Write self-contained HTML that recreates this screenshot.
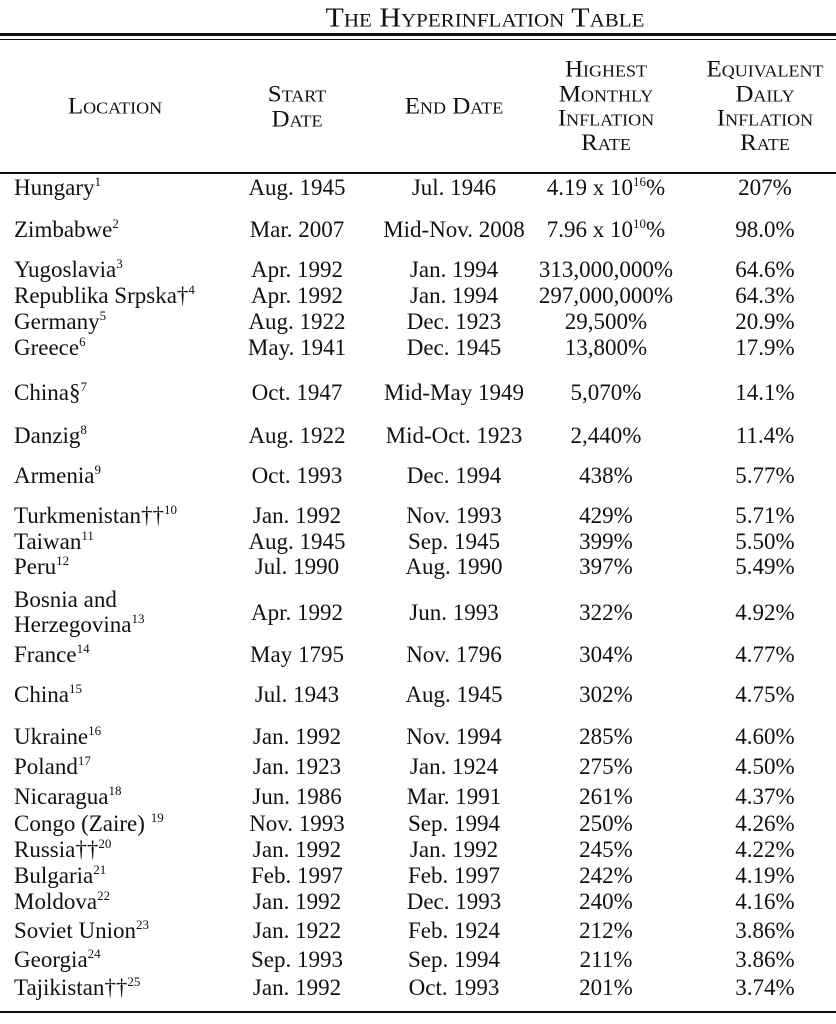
<!DOCTYPE html>
<html><head><meta charset="utf-8"><style>
body{margin:0;width:836px;height:1024px;background:#fff;position:relative;overflow:hidden;font-family:"Liberation Serif",serif;color:#111;}
.t{position:absolute;font-size:23px;line-height:24px;white-space:nowrap;transform:translate(-50%,-50%);}
.l{position:absolute;left:14px;font-size:23px;line-height:24px;white-space:nowrap;transform:translateY(-50%);}
.h{position:absolute;font-size:25px;line-height:26.5px;text-align:center;font-variant:small-caps;transform:translateX(-50%) scaleY(0.92);white-space:nowrap;}
sup{font-size:13px;vertical-align:9px;line-height:0;}
.line{position:absolute;left:0;width:836px;background:#111;}
</style></head><body>
<div class="h" style="left:485px;top:2px;font-size:30px;line-height:32px;">The Hyperinflation Table</div>
<div class="line" style="top:33px;height:3px"></div>
<div class="line" style="top:39px;height:1px"></div>
<div class="h" style="left:115px;top:94px">Location</div>
<div class="h" style="left:297px;top:81px">Start<br>Date</div>
<div class="h" style="left:454px;top:94px">End Date</div>
<div class="h" style="left:606px;top:54px">Highest<br>Monthly<br>Inflation<br>Rate</div>
<div class="h" style="left:765px;top:54px">Equivalent<br>Daily<br>Inflation<br>Rate</div>
<div class="line" style="top:172px;height:2px"></div>

<div class="l" style="top:188px">Hungary<sup>1</sup></div><div class="t" style="left:297px;top:188px">Aug. 1945</div><div class="t" style="left:454px;top:188px">Jul. 1946</div><div class="t" style="left:606px;top:188px">4.19 x 10<sup>16</sup>%</div><div class="t" style="left:765px;top:188px">207%</div>
<div class="l" style="top:230px">Zimbabwe<sup>2</sup></div><div class="t" style="left:297px;top:230px">Mar. 2007</div><div class="t" style="left:454px;top:230px">Mid-Nov. 2008</div><div class="t" style="left:606px;top:230px">7.96 x 10<sup>10</sup>%</div><div class="t" style="left:765px;top:230px">98.0%</div>
<div class="l" style="top:270px">Yugoslavia<sup>3</sup></div><div class="t" style="left:297px;top:270px">Apr. 1992</div><div class="t" style="left:454px;top:270px">Jan. 1994</div><div class="t" style="left:606px;top:270px">313,000,000%</div><div class="t" style="left:765px;top:270px">64.6%</div>
<div class="l" style="top:296px">Republika Srpska†<sup>4</sup></div><div class="t" style="left:297px;top:296px">Apr. 1992</div><div class="t" style="left:454px;top:296px">Jan. 1994</div><div class="t" style="left:606px;top:296px">297,000,000%</div><div class="t" style="left:765px;top:296px">64.3%</div>
<div class="l" style="top:322px">Germany<sup>5</sup></div><div class="t" style="left:297px;top:322px">Aug. 1922</div><div class="t" style="left:454px;top:322px">Dec. 1923</div><div class="t" style="left:606px;top:322px">29,500%</div><div class="t" style="left:765px;top:322px">20.9%</div>
<div class="l" style="top:348px">Greece<sup>6</sup></div><div class="t" style="left:297px;top:348px">May. 1941</div><div class="t" style="left:454px;top:348px">Dec. 1945</div><div class="t" style="left:606px;top:348px">13,800%</div><div class="t" style="left:765px;top:348px">17.9%</div>
<div class="l" style="top:393px">China§<sup>7</sup></div><div class="t" style="left:297px;top:393px">Oct. 1947</div><div class="t" style="left:454px;top:393px">Mid-May 1949</div><div class="t" style="left:606px;top:393px">5,070%</div><div class="t" style="left:765px;top:393px">14.1%</div>
<div class="l" style="top:436px">Danzig<sup>8</sup></div><div class="t" style="left:297px;top:436px">Aug. 1922</div><div class="t" style="left:454px;top:436px">Mid-Oct. 1923</div><div class="t" style="left:606px;top:436px">2,440%</div><div class="t" style="left:765px;top:436px">11.4%</div>
<div class="l" style="top:476px">Armenia<sup>9</sup></div><div class="t" style="left:297px;top:476px">Oct. 1993</div><div class="t" style="left:454px;top:476px">Dec. 1994</div><div class="t" style="left:606px;top:476px">438%</div><div class="t" style="left:765px;top:476px">5.77%</div>
<div class="l" style="top:516px">Turkmenistan††<sup>10</sup></div><div class="t" style="left:297px;top:516px">Jan. 1992</div><div class="t" style="left:454px;top:516px">Nov. 1993</div><div class="t" style="left:606px;top:516px">429%</div><div class="t" style="left:765px;top:516px">5.71%</div>
<div class="l" style="top:542px">Taiwan<sup>11</sup></div><div class="t" style="left:297px;top:542px">Aug. 1945</div><div class="t" style="left:454px;top:542px">Sep. 1945</div><div class="t" style="left:606px;top:542px">399%</div><div class="t" style="left:765px;top:542px">5.50%</div>
<div class="l" style="top:567px">Peru<sup>12</sup></div><div class="t" style="left:297px;top:567px">Jul. 1990</div><div class="t" style="left:454px;top:567px">Aug. 1990</div><div class="t" style="left:606px;top:567px">397%</div><div class="t" style="left:765px;top:567px">5.49%</div>
<div class="l" style="top:600px">Bosnia and</div><div class="l" style="top:625px">Herzegovina<sup>13</sup></div><div class="t" style="left:297px;top:613px">Apr. 1992</div><div class="t" style="left:454px;top:613px">Jun. 1993</div><div class="t" style="left:606px;top:613px">322%</div><div class="t" style="left:765px;top:613px">4.92%</div>
<div class="l" style="top:655px">France<sup>14</sup></div><div class="t" style="left:297px;top:655px">May 1795</div><div class="t" style="left:454px;top:655px">Nov. 1796</div><div class="t" style="left:606px;top:655px">304%</div><div class="t" style="left:765px;top:655px">4.77%</div>
<div class="l" style="top:695px">China<sup>15</sup></div><div class="t" style="left:297px;top:695px">Jul. 1943</div><div class="t" style="left:454px;top:695px">Aug. 1945</div><div class="t" style="left:606px;top:695px">302%</div><div class="t" style="left:765px;top:695px">4.75%</div>
<div class="l" style="top:737px">Ukraine<sup>16</sup></div><div class="t" style="left:297px;top:737px">Jan. 1992</div><div class="t" style="left:454px;top:737px">Nov. 1994</div><div class="t" style="left:606px;top:737px">285%</div><div class="t" style="left:765px;top:737px">4.60%</div>
<div class="l" style="top:767px">Poland<sup>17</sup></div><div class="t" style="left:297px;top:767px">Jan. 1923</div><div class="t" style="left:454px;top:767px">Jan. 1924</div><div class="t" style="left:606px;top:767px">275%</div><div class="t" style="left:765px;top:767px">4.50%</div>
<div class="l" style="top:797px">Nicaragua<sup>18</sup></div><div class="t" style="left:297px;top:797px">Jun. 1986</div><div class="t" style="left:454px;top:797px">Mar. 1991</div><div class="t" style="left:606px;top:797px">261%</div><div class="t" style="left:765px;top:797px">4.37%</div>
<div class="l" style="top:824px">Congo (Zaire) <sup>19</sup></div><div class="t" style="left:297px;top:824px">Nov. 1993</div><div class="t" style="left:454px;top:824px">Sep. 1994</div><div class="t" style="left:606px;top:824px">250%</div><div class="t" style="left:765px;top:824px">4.26%</div>
<div class="l" style="top:850px">Russia††<sup>20</sup></div><div class="t" style="left:297px;top:850px">Jan. 1992</div><div class="t" style="left:454px;top:850px">Jan. 1992</div><div class="t" style="left:606px;top:850px">245%</div><div class="t" style="left:765px;top:850px">4.22%</div>
<div class="l" style="top:876px">Bulgaria<sup>21</sup></div><div class="t" style="left:297px;top:876px">Feb. 1997</div><div class="t" style="left:454px;top:876px">Feb. 1997</div><div class="t" style="left:606px;top:876px">242%</div><div class="t" style="left:765px;top:876px">4.19%</div>
<div class="l" style="top:902px">Moldova<sup>22</sup></div><div class="t" style="left:297px;top:902px">Jan. 1992</div><div class="t" style="left:454px;top:902px">Dec. 1993</div><div class="t" style="left:606px;top:902px">240%</div><div class="t" style="left:765px;top:902px">4.16%</div>
<div class="l" style="top:931px">Soviet Union<sup>23</sup></div><div class="t" style="left:297px;top:931px">Jan. 1922</div><div class="t" style="left:454px;top:931px">Feb. 1924</div><div class="t" style="left:606px;top:931px">212%</div><div class="t" style="left:765px;top:931px">3.86%</div>
<div class="l" style="top:960px">Georgia<sup>24</sup></div><div class="t" style="left:297px;top:960px">Sep. 1993</div><div class="t" style="left:454px;top:960px">Sep. 1994</div><div class="t" style="left:606px;top:960px">211%</div><div class="t" style="left:765px;top:960px">3.86%</div>
<div class="l" style="top:988px">Tajikistan††<sup>25</sup></div><div class="t" style="left:297px;top:988px">Jan. 1992</div><div class="t" style="left:454px;top:988px">Oct. 1993</div><div class="t" style="left:606px;top:988px">201%</div><div class="t" style="left:765px;top:988px">3.74%</div>
<div class="line" style="top:1011px;height:2px"></div>
</body></html>
